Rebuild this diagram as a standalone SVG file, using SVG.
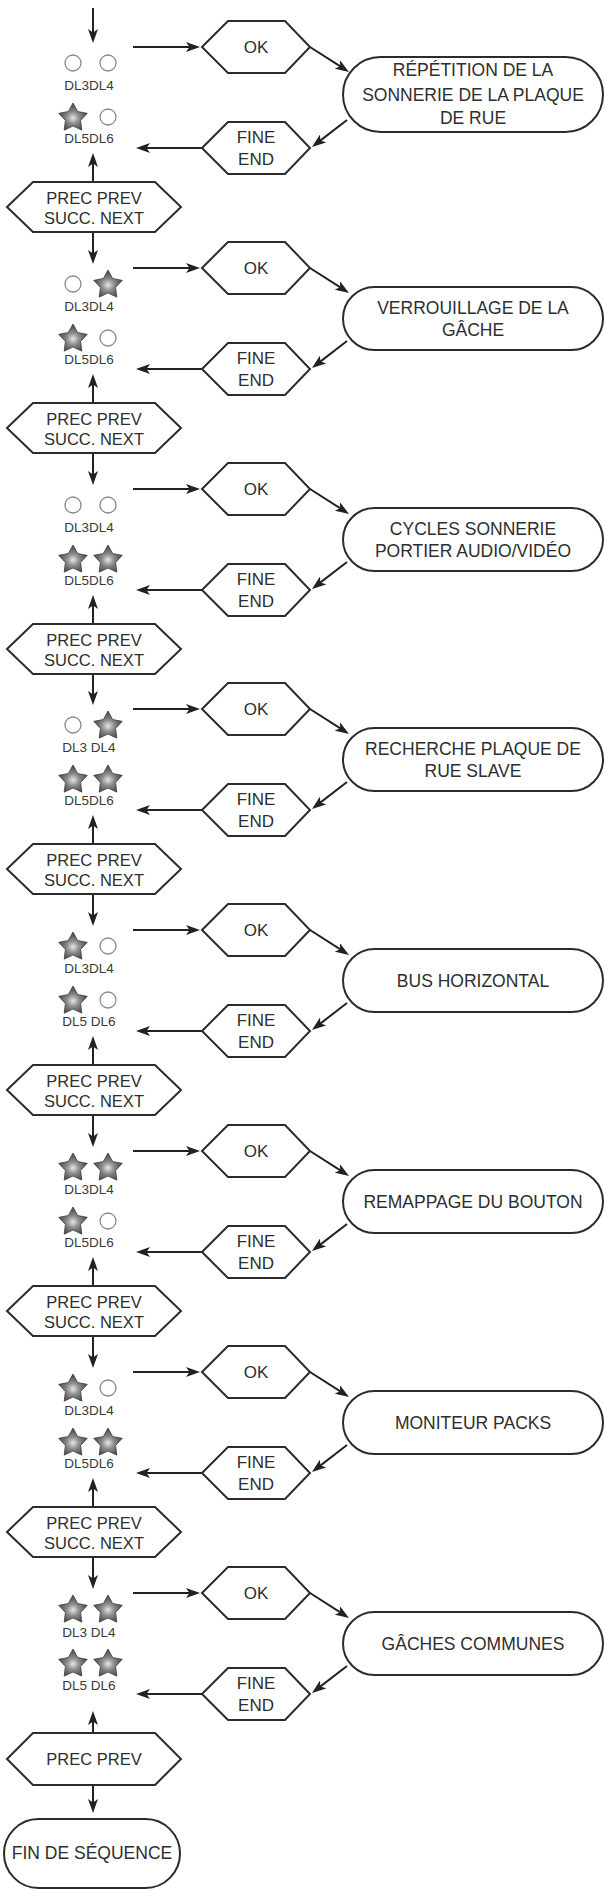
<svg xmlns="http://www.w3.org/2000/svg" xmlns:xlink="http://www.w3.org/1999/xlink" width="606" height="1890" viewBox="0 0 606 1890">
<style>
.box{fill:#fff;stroke:#2b2b2b;stroke-width:2}
.t{font-family:"Liberation Sans",Arial,sans-serif;font-size:17.5px;fill:#2e2e2e;text-anchor:middle}
.th{font-size:17px}
.tp{font-size:16.5px}
.dl{font-family:"Liberation Sans",Arial,sans-serif;font-size:13.5px;fill:#3a3a3a;text-anchor:middle}
.off{fill:#fff;stroke:#8a8a8a;stroke-width:1.3}
.on{fill:url(#g);stroke:#404040;stroke-width:0.8;stroke-linejoin:round}
.c{fill:none;stroke:#222;stroke-width:2;marker-end:url(#a)}
</style>
<defs>
<marker id="a" viewBox="0 0 14 10" refX="6" refY="5" markerWidth="14" markerHeight="10" markerUnits="userSpaceOnUse" orient="auto">
<path d="M0,0 L14,5 L0,10 L3.5,5 Z" fill="#222"/>
</marker>
<radialGradient id="g" cx="0.5" cy="0.55" r="0.55">
<stop offset="0" stop-color="#e6e6e6"/>
<stop offset="0.4" stop-color="#8c8c8c"/>
<stop offset="1" stop-color="#3d3d3d"/>
</radialGradient>
<path id="star" d="M0,-15 L4.7,-6.47 L14.27,-4.64 L7.61,2.47 L8.82,12.14 L0,8 L-8.82,12.14 L-7.61,2.47 L-14.27,-4.64 L-4.7,-6.47 Z"/>
</defs>

<g id="connectors">
<path class="c" d="M93,8 V35"/>
<path class="c" d="M133,47 H192"/>
<path class="c" d="M310,47 L342.3,67.6"/>
<path class="c" d="M347,120 L318.3,142.1"/>
<path class="c" d="M202,148 H144"/>
<path class="c" d="M93,182 V161"/>

<path class="c" d="M93,232 V256"/>
<path class="c" d="M133,268 H192"/>
<path class="c" d="M310,268 L342.3,288.6"/>
<path class="c" d="M347,341 L318.3,363.1"/>
<path class="c" d="M202,369 H144"/>
<path class="c" d="M93,403 V382"/>

<path class="c" d="M93,453 V477"/>
<path class="c" d="M133,489 H192"/>
<path class="c" d="M310,489 L342.3,509.6"/>
<path class="c" d="M347,562 L318.3,584.1"/>
<path class="c" d="M202,590 H144"/>
<path class="c" d="M93,624 V603"/>

<path class="c" d="M93,674 V697"/>
<path class="c" d="M133,709 H192"/>
<path class="c" d="M310,709 L342.3,729.6"/>
<path class="c" d="M347,782 L318.3,804.1"/>
<path class="c" d="M202,810 H144"/>
<path class="c" d="M93,844 V823"/>

<path class="c" d="M93,894 V918"/>
<path class="c" d="M133,930 H192"/>
<path class="c" d="M310,930 L342.3,950.6"/>
<path class="c" d="M347,1003 L318.3,1025.1"/>
<path class="c" d="M202,1031 H144"/>
<path class="c" d="M93,1065 V1044"/>

<path class="c" d="M93,1115 V1139"/>
<path class="c" d="M133,1151 H192"/>
<path class="c" d="M310,1151 L342.3,1171.6"/>
<path class="c" d="M347,1224 L318.3,1246.1"/>
<path class="c" d="M202,1252 H144"/>
<path class="c" d="M93,1286 V1265"/>

<path class="c" d="M93,1336 V1360"/>
<path class="c" d="M133,1372 H192"/>
<path class="c" d="M310,1372 L342.3,1392.6"/>
<path class="c" d="M347,1445 L318.3,1467.1"/>
<path class="c" d="M202,1473 H144"/>
<path class="c" d="M93,1507 V1486"/>

<path class="c" d="M93,1557 V1581"/>
<path class="c" d="M133,1593 H192"/>
<path class="c" d="M310,1593 L342.3,1613.6"/>
<path class="c" d="M347,1666 L318.3,1688.1"/>
<path class="c" d="M202,1694 H144"/>
<path class="c" d="M93,1733 V1719"/>
<path class="c" d="M93,1785 V1805"/>
</g>

<!-- Section 1 -->
<g id="leds1">
<circle class="off" cx="73" cy="63" r="8"/><circle class="off" cx="108" cy="63" r="8"/>
<text class="dl" x="89" y="90">DL3DL4</text>
<use xlink:href="#star" class="on" x="73" y="118"/><circle class="off" cx="108" cy="117" r="8"/>
<text class="dl" x="89" y="143">DL5DL6</text>
</g>
<g id="ok1"><polygon class="box" points="202,47 228,21 285,21 310,47 285,73 228,73"/><text class="t th" x="256" y="53">OK</text></g>
<g id="menu1"><rect class="box" x="343" y="57" width="260" height="75" rx="37.5"/>
<text class="t" x="473" y="76">RÉPÉTITION DE LA</text><text class="t" x="473" y="101">SONNERIE DE LA PLAQUE</text><text class="t" x="473" y="124">DE RUE</text></g>
<g id="end1"><polygon class="box" points="202,148 228,122 285,122 310,148 285,174 228,174"/><text class="t th" x="256" y="143">FINE</text><text class="t th" x="256" y="165">END</text></g>
<g id="nav1"><polygon class="box" points="7,207 33,182 155,182 181,207 155,232 33,232"/><text class="t tp" x="94" y="204">PREC PREV</text><text class="t tp" x="94" y="224">SUCC. NEXT</text></g>

<!-- Section 2 -->
<g id="leds2">
<circle class="off" cx="73" cy="284" r="8"/><use xlink:href="#star" class="on" x="108" y="285"/>
<text class="dl" x="89" y="311">DL3DL4</text>
<use xlink:href="#star" class="on" x="73" y="339"/><circle class="off" cx="108" cy="338" r="8"/>
<text class="dl" x="89" y="364">DL5DL6</text>
</g>
<g id="ok2"><polygon class="box" points="202,268 228,242 285,242 310,268 285,294 228,294"/><text class="t th" x="256" y="274">OK</text></g>
<g id="menu2"><rect class="box" x="343" y="287" width="260" height="63" rx="31.5"/>
<text class="t" x="473" y="314">VERROUILLAGE DE LA</text><text class="t" x="473" y="336">GÂCHE</text></g>
<g id="end2"><polygon class="box" points="202,369 228,343 285,343 310,369 285,395 228,395"/><text class="t th" x="256" y="364">FINE</text><text class="t th" x="256" y="386">END</text></g>
<g id="nav2"><polygon class="box" points="7,428 33,403 155,403 181,428 155,453 33,453"/><text class="t tp" x="94" y="425">PREC PREV</text><text class="t tp" x="94" y="445">SUCC. NEXT</text></g>

<!-- Section 3 -->
<g id="leds3">
<circle class="off" cx="73" cy="505" r="8"/><circle class="off" cx="108" cy="505" r="8"/>
<text class="dl" x="89" y="532">DL3DL4</text>
<use xlink:href="#star" class="on" x="73" y="560"/><use xlink:href="#star" class="on" x="108" y="560"/>
<text class="dl" x="89" y="585">DL5DL6</text>
</g>
<g id="ok3"><polygon class="box" points="202,489 228,463 285,463 310,489 285,515 228,515"/><text class="t th" x="256" y="495">OK</text></g>
<g id="menu3"><rect class="box" x="343" y="508" width="260" height="63" rx="31.5"/>
<text class="t" x="473" y="535">CYCLES SONNERIE</text><text class="t" x="473" y="557">PORTIER AUDIO/VIDÉO</text></g>
<g id="end3"><polygon class="box" points="202,590 228,564 285,564 310,590 285,616 228,616"/><text class="t th" x="256" y="585">FINE</text><text class="t th" x="256" y="607">END</text></g>
<g id="nav3"><polygon class="box" points="7,649 33,624 155,624 181,649 155,674 33,674"/><text class="t tp" x="94" y="646">PREC PREV</text><text class="t tp" x="94" y="666">SUCC. NEXT</text></g>

<!-- Section 4 -->
<g id="leds4">
<circle class="off" cx="73" cy="725" r="8"/><use xlink:href="#star" class="on" x="108" y="726"/>
<text class="dl" x="89" y="752">DL3 DL4</text>
<use xlink:href="#star" class="on" x="73" y="780"/><use xlink:href="#star" class="on" x="108" y="780"/>
<text class="dl" x="89" y="805">DL5DL6</text>
</g>
<g id="ok4"><polygon class="box" points="202,709 228,683 285,683 310,709 285,735 228,735"/><text class="t th" x="256" y="715">OK</text></g>
<g id="menu4"><rect class="box" x="343" y="728" width="260" height="63" rx="31.5"/>
<text class="t" x="473" y="755">RECHERCHE PLAQUE DE</text><text class="t" x="473" y="777">RUE SLAVE</text></g>
<g id="end4"><polygon class="box" points="202,810 228,784 285,784 310,810 285,836 228,836"/><text class="t th" x="256" y="805">FINE</text><text class="t th" x="256" y="827">END</text></g>
<g id="nav4"><polygon class="box" points="7,869 33,844 155,844 181,869 155,894 33,894"/><text class="t tp" x="94" y="866">PREC PREV</text><text class="t tp" x="94" y="886">SUCC. NEXT</text></g>

<!-- Section 5 -->
<g id="leds5">
<use xlink:href="#star" class="on" x="73" y="947"/><circle class="off" cx="108" cy="946" r="8"/>
<text class="dl" x="89" y="973">DL3DL4</text>
<use xlink:href="#star" class="on" x="73" y="1001"/><circle class="off" cx="108" cy="1000" r="8"/>
<text class="dl" x="89" y="1026">DL5 DL6</text>
</g>
<g id="ok5"><polygon class="box" points="202,930 228,904 285,904 310,930 285,956 228,956"/><text class="t th" x="256" y="936">OK</text></g>
<g id="menu5"><rect class="box" x="343" y="949" width="260" height="63" rx="31.5"/>
<text class="t" x="473" y="987">BUS HORIZONTAL</text></g>
<g id="end5"><polygon class="box" points="202,1031 228,1005 285,1005 310,1031 285,1057 228,1057"/><text class="t th" x="256" y="1026">FINE</text><text class="t th" x="256" y="1048">END</text></g>
<g id="nav5"><polygon class="box" points="7,1090 33,1065 155,1065 181,1090 155,1115 33,1115"/><text class="t tp" x="94" y="1087">PREC PREV</text><text class="t tp" x="94" y="1107">SUCC. NEXT</text></g>

<!-- Section 6 -->
<g id="leds6">
<use xlink:href="#star" class="on" x="73" y="1168"/><use xlink:href="#star" class="on" x="108" y="1168"/>
<text class="dl" x="89" y="1194">DL3DL4</text>
<use xlink:href="#star" class="on" x="73" y="1222"/><circle class="off" cx="108" cy="1221" r="8"/>
<text class="dl" x="89" y="1247">DL5DL6</text>
</g>
<g id="ok6"><polygon class="box" points="202,1151 228,1125 285,1125 310,1151 285,1177 228,1177"/><text class="t th" x="256" y="1157">OK</text></g>
<g id="menu6"><rect class="box" x="343" y="1170" width="260" height="63" rx="31.5"/>
<text class="t" x="473" y="1208">REMAPPAGE DU BOUTON</text></g>
<g id="end6"><polygon class="box" points="202,1252 228,1226 285,1226 310,1252 285,1278 228,1278"/><text class="t th" x="256" y="1247">FINE</text><text class="t th" x="256" y="1269">END</text></g>
<g id="nav6"><polygon class="box" points="7,1311 33,1286 155,1286 181,1311 155,1336 33,1336"/><text class="t tp" x="94" y="1308">PREC PREV</text><text class="t tp" x="94" y="1328">SUCC. NEXT</text></g>

<!-- Section 7 -->
<g id="leds7">
<use xlink:href="#star" class="on" x="73" y="1389"/><circle class="off" cx="108" cy="1388" r="8"/>
<text class="dl" x="89" y="1415">DL3DL4</text>
<use xlink:href="#star" class="on" x="73" y="1443"/><use xlink:href="#star" class="on" x="108" y="1443"/>
<text class="dl" x="89" y="1468">DL5DL6</text>
</g>
<g id="ok7"><polygon class="box" points="202,1372 228,1346 285,1346 310,1372 285,1398 228,1398"/><text class="t th" x="256" y="1378">OK</text></g>
<g id="menu7"><rect class="box" x="343" y="1391" width="260" height="63" rx="31.5"/>
<text class="t" x="473" y="1429">MONITEUR PACKS</text></g>
<g id="end7"><polygon class="box" points="202,1473 228,1447 285,1447 310,1473 285,1499 228,1499"/><text class="t th" x="256" y="1468">FINE</text><text class="t th" x="256" y="1490">END</text></g>
<g id="nav7"><polygon class="box" points="7,1532 33,1507 155,1507 181,1532 155,1557 33,1557"/><text class="t tp" x="94" y="1529">PREC PREV</text><text class="t tp" x="94" y="1549">SUCC. NEXT</text></g>

<!-- Section 8 -->
<g id="leds8">
<use xlink:href="#star" class="on" x="73" y="1610"/><use xlink:href="#star" class="on" x="108" y="1610"/>
<text class="dl" x="89" y="1637">DL3 DL4</text>
<use xlink:href="#star" class="on" x="73" y="1664"/><use xlink:href="#star" class="on" x="108" y="1664"/>
<text class="dl" x="89" y="1690">DL5 DL6</text>
</g>
<g id="ok8"><polygon class="box" points="202,1593 228,1567 285,1567 310,1593 285,1619 228,1619"/><text class="t th" x="256" y="1599">OK</text></g>
<g id="menu8"><rect class="box" x="343" y="1612" width="260" height="63" rx="31.5"/>
<text class="t" x="473" y="1650">GÂCHES COMMUNES</text></g>
<g id="end8"><polygon class="box" points="202,1694 228,1668 285,1668 310,1694 285,1720 228,1720"/><text class="t th" x="256" y="1689">FINE</text><text class="t th" x="256" y="1711">END</text></g>
<g id="nav8"><polygon class="box" points="7,1759 33,1733 155,1733 181,1759 155,1785 33,1785"/><text class="t tp" x="94" y="1765">PREC PREV</text></g>

<g id="fin"><rect class="box" x="4" y="1819" width="176" height="69" rx="34.5"/><text class="t" x="92" y="1859">FIN DE SÉQUENCE</text></g>
</svg>
